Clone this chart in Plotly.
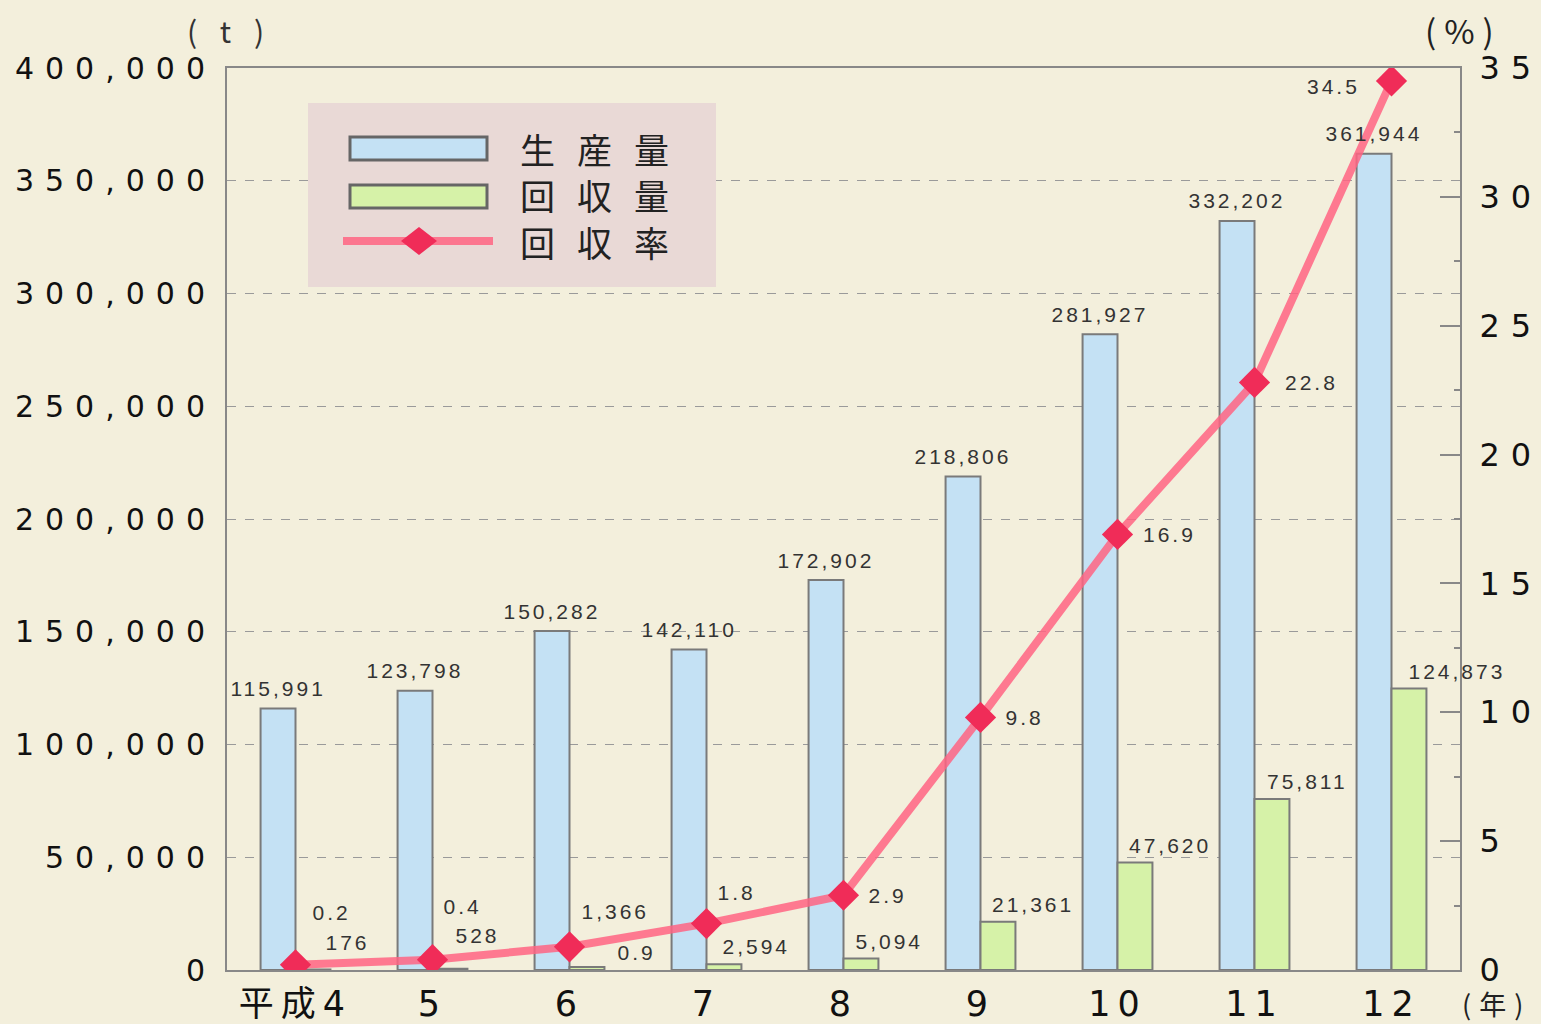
import plotly.graph_objects as go

# ---------------- data ----------------
years = ["平成4", "5", "6", "7", "8", "9", "10", "11", "12"]
production = [115991, 123798, 150282, 142110, 172902, 218806, 281927, 332202, 361944]
collection = [176, 528, 1366, 2594, 5094, 21361, 47620, 75811, 124873]
rate = [0.2, 0.4, 0.9, 1.8, 2.9, 9.8, 16.9, 22.8, 34.5]
y_ticks = [0, 50000, 100000, 150000, 200000, 250000, 300000, 350000, 400000]
y2_ticks = [0, 5, 10, 15, 20, 25, 30, 35]
series_names = ["生産量", "回収量", "回収率"]

# ---------------- styles / label offsets (pixels) ----------------
BG = "#f3efdc"
BLUE = "#c4e1f4"
GREEN = "#d6f2a8"
EDGE = "#7a7a7a"
LINE = "rgba(255,100,130,0.85)"
MARK = "#f02c58"
TXT = "#333333"
NUM_FONT = "DejaVu Sans, Noto Sans CJK JP"
LAB_FONT = "Liberation Sans, Arial, sans-serif"
JP_FONT = "Noto Sans CJK JP, DejaVu Sans"

BAR_W = 0.255
# green label offsets (dx right, dy up) relative to (category centre, value)
green_dx = [52, 45, 46, 50, 46, 52, 52, 53, 65]
green_dy = [27, 33, 55, 18, 17, 17, 17, 18, 17]
# rate label offsets relative to marker
rate_dx = [36, 30, 67, 30, 44, 44, 52, 57, -58]
rate_dy = [52, 53, -6, 31, 0, 0, 0, 0, -6]

x = list(range(len(years)))

fig = go.Figure()
fig.add_trace(go.Bar(
    x=x, y=production, name=series_names[0], width=BAR_W, offset=-BAR_W,
    marker=dict(color=BLUE, line=dict(color=EDGE, width=2)), showlegend=False))
fig.add_trace(go.Bar(
    x=x, y=collection, name=series_names[1], width=BAR_W, offset=0,
    marker=dict(color=GREEN, line=dict(color=EDGE, width=2)), showlegend=False))
fig.add_trace(go.Scatter(
    x=x, y=rate, name=series_names[2], yaxis="y2", mode="lines+markers",
    line=dict(color=LINE, width=8),
    marker=dict(symbol="diamond", size=24, color=MARK, line=dict(width=0)),
    showlegend=False))

annotations = []
for i, v in enumerate(production):
    annotations.append(dict(x=i - BAR_W / 2, y=v, xref="x", yref="y",
                            text=f"{v:,}", showarrow=False, yshift=20,
                            font=dict(family=LAB_FONT, size=21, color=TXT)))
for i, v in enumerate(collection):
    annotations.append(dict(x=i, y=v, xref="x", yref="y",
                            text=f"{v:,}", showarrow=False,
                            xshift=green_dx[i], yshift=green_dy[i],
                            font=dict(family=LAB_FONT, size=21, color=TXT)))
for i, v in enumerate(rate):
    annotations.append(dict(x=i, y=v, xref="x", yref="y2",
                            text=f"{v}", showarrow=False,
                            xshift=rate_dx[i], yshift=rate_dy[i],
                            font=dict(family=LAB_FONT, size=21, color=TXT)))

# plot-area pixel geometry (for legend decoration)
L, R, T, B = 227, 1460, 68, 970


def px(v):
    return (v - L) / (R - L)


def py(v):
    return (B - v) / (B - T)


shapes = [
    dict(type="rect", xref="paper", yref="paper", x0=px(308), x1=px(716), y0=py(287), y1=py(103),
         fillcolor="#e9d9d6", line=dict(width=0), layer="above"),
    dict(type="rect", xref="paper", yref="paper", x0=px(350), x1=px(487), y0=py(160), y1=py(137),
         fillcolor=BLUE, line=dict(color="#666666", width=3), layer="above"),
    dict(type="rect", xref="paper", yref="paper", x0=px(350), x1=px(487), y0=py(208), y1=py(185),
         fillcolor=GREEN, line=dict(color="#666666", width=3), layer="above"),
    dict(type="line", xref="paper", yref="paper", x0=px(343), x1=px(493), y0=py(241), y1=py(241),
         line=dict(color=LINE, width=8), layer="above"),
    dict(type="path", xref="paper", yref="paper",
         path=f"M {px(401)},{py(241)} L {px(419)},{py(227)} L {px(437)},{py(241)} L {px(419)},{py(255)} Z",
         fillcolor=MARK, line=dict(width=0), layer="above"),
]
for name, yy in zip(series_names, [148, 195, 242]):
    annotations.append(dict(x=px(605), y=py(yy), xref="paper", yref="paper", text=name,
                            showarrow=False, xanchor="center", yanchor="middle",
                            font=dict(family=JP_FONT, size=35, color="#222222")))

annotations += [
    dict(x=px(229), y=py(30), xref="paper", yref="paper", text="( t )", showarrow=False,
         xanchor="center", yanchor="middle",
         font=dict(family=JP_FONT, size=30, color="#333333")),
    dict(x=px(1463), y=py(30), xref="paper", yref="paper", text="(%)", showarrow=False,
         xanchor="center", yanchor="middle",
         font=dict(family=JP_FONT, size=33, color="#222222")),
    dict(x=px(1496), y=py(1003), xref="paper", yref="paper", text="(年)", showarrow=False,
         xanchor="center", yanchor="middle",
         font=dict(family=JP_FONT, size=27, color="#222222")),
]

fig.update_layout(
    width=1541, height=1024,
    margin=dict(l=L, r=1541 - R, t=T, b=1024 - B, autoexpand=False),
    paper_bgcolor=BG, plot_bgcolor=BG,
    barmode="overlay",
    showlegend=False,
    annotations=annotations,
    shapes=shapes,
    xaxis=dict(range=[-0.5, 8.5], tickvals=x, ticktext=years, showgrid=False,
               showline=True, linecolor="#888888", linewidth=2, mirror=True,
               ticks="", zeroline=False, ticklabelstandoff=2, automargin=False,
               tickfont=dict(family=NUM_FONT, size=35, color="#111111")),
    yaxis=dict(range=[0, 400000], tickvals=y_ticks, tickformat=",",
               showgrid=True, gridcolor="#9a9a9a", griddash="dash", gridwidth=1,
               showline=True, linecolor="#888888", linewidth=2, zeroline=False,
               ticks="", ticklabelstandoff=3, automargin=False,
               tickfont=dict(family=NUM_FONT, size=30, color="#111111")),
    yaxis2=dict(range=[0, 35], tickvals=y2_ticks, overlaying="y", side="right",
                showgrid=False, showline=True, linecolor="#888888", linewidth=2,
                ticks="inside", ticklen=20, tickcolor="#888888", tickwidth=2,
                minor=dict(ticks="inside", ticklen=6, dtick=2.5, tickcolor="#888888"),
                zeroline=False, ticklabelstandoff=11, automargin=False,
                tickfont=dict(family=NUM_FONT, size=32, color="#111111")),
)

post = """
document.body.style.margin = '0';
document.body.style.padding = '0';
var gd = document.getElementById('{plot_id}');
gd.querySelectorAll('.ytick text').forEach(function(t){t.style.letterSpacing='11px';});
gd.querySelectorAll('.y2tick text').forEach(function(t){t.style.letterSpacing='11px';});
gd.querySelectorAll('.xtick text').forEach(function(t){t.style.letterSpacing='7px';});
gd.querySelectorAll('.annotation-text').forEach(function(t){
  var s = t.textContent;
  if (/[生産量回収率]/.test(s) && s.length === 3) { t.style.letterSpacing = '22px'; }
  else if (/[()]/.test(s)) { t.style.letterSpacing = '8px'; }
  else { t.style.letterSpacing = '3px'; }
});
"""

fig.write_html("out.html", post_script=post, config={"displayModeBar": False})
